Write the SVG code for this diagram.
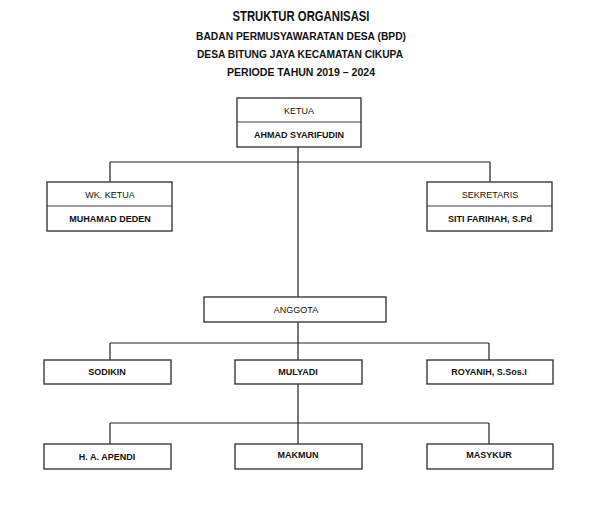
<svg xmlns="http://www.w3.org/2000/svg" width="595" height="507" viewBox="0 0 595 507">
<style>
.bx{fill:#fff;stroke:#3a3a3a;stroke-width:1.4}
.dv{stroke:#3a3a3a;stroke-width:1.2}
.cn{fill:none;stroke:#222;stroke-width:1.2}
text{font-family:"Liberation Sans",Arial,sans-serif;fill:#111;text-anchor:middle}
.t1{font-size:14px;font-weight:bold}
.t2{font-size:11.5px;font-weight:bold}
.r{font-size:9px}
.b{font-size:9px;font-weight:bold}
</style>
<rect width="595" height="507" fill="#fff"/>
<g id="title">
<text class="t1" x="301" y="21" textLength="137" lengthAdjust="spacingAndGlyphs">STRUKTUR ORGANISASI</text>
<text class="t2" x="301" y="40" textLength="210" lengthAdjust="spacingAndGlyphs">BADAN PERMUSYAWARATAN DESA (BPD)</text>
<text class="t2" x="300" y="58" textLength="206" lengthAdjust="spacingAndGlyphs">DESA BITUNG JAYA KECAMATAN CIKUPA</text>
<text class="t2" x="301" y="76" textLength="148" lengthAdjust="spacingAndGlyphs">PERIODE TAHUN 2019 – 2024</text>
</g>
<g id="connectors">
<path class="cn" d="M298 147V297M110 162H490M110 162V182M490 162V182"/>
<path class="cn" d="M298 322V343M110 343H489M110 343V360M298 343V360M489 343V360"/>
<path class="cn" d="M298 384V423M110 423H489M110 423V444M298 423V444M489 423V444"/>
</g>
<g id="ketua">
<rect class="bx" x="237" y="98" width="124" height="49"/>
<line class="dv" x1="237" y1="122" x2="361" y2="122"/>
<text class="r" x="299" y="114">KETUA</text>
<text class="b" x="299" y="138">AHMAD SYARIFUDIN</text>
</g>
<g id="wk-ketua">
<rect class="bx" x="47" y="182" width="125" height="49"/>
<line class="dv" x1="47" y1="206" x2="172" y2="206"/>
<text class="r" x="110" y="198">WK. KETUA</text>
<text class="b" x="110" y="222">MUHAMAD DEDEN</text>
</g>
<g id="sekretaris">
<rect class="bx" x="427" y="182" width="125" height="49"/>
<line class="dv" x1="427" y1="206" x2="552" y2="206"/>
<text class="r" x="490" y="198">SEKRETARIS</text>
<text class="b" x="490" y="222">SITI FARIHAH, S.Pd</text>
</g>
<g id="anggota">
<rect class="bx" x="204" y="297" width="182" height="25"/>
<text class="r" x="296" y="313">ANGGOTA</text>
</g>
<g id="sodikin">
<rect class="bx" x="44" y="360" width="127" height="24"/>
<text class="b" x="107" y="375">SODIKIN</text>
</g>
<g id="mulyadi">
<rect class="bx" x="235" y="360" width="127" height="24"/>
<text class="b" x="298" y="375">MULYADI</text>
</g>
<g id="royanih">
<rect class="bx" x="427" y="360" width="126" height="24"/>
<text class="b" x="489" y="375">ROYANIH, S.Sos.I</text>
</g>
<g id="apendi">
<rect class="bx" x="44" y="444" width="127" height="25"/>
<text class="b" x="107" y="460">H. A. APENDI</text>
</g>
<g id="makmun">
<rect class="bx" x="235" y="444" width="127" height="25"/>
<text class="b" x="298" y="458">MAKMUN</text>
</g>
<g id="masykur">
<rect class="bx" x="427" y="444" width="126" height="25"/>
<text class="b" x="489" y="458">MASYKUR</text>
</g>
</svg>
